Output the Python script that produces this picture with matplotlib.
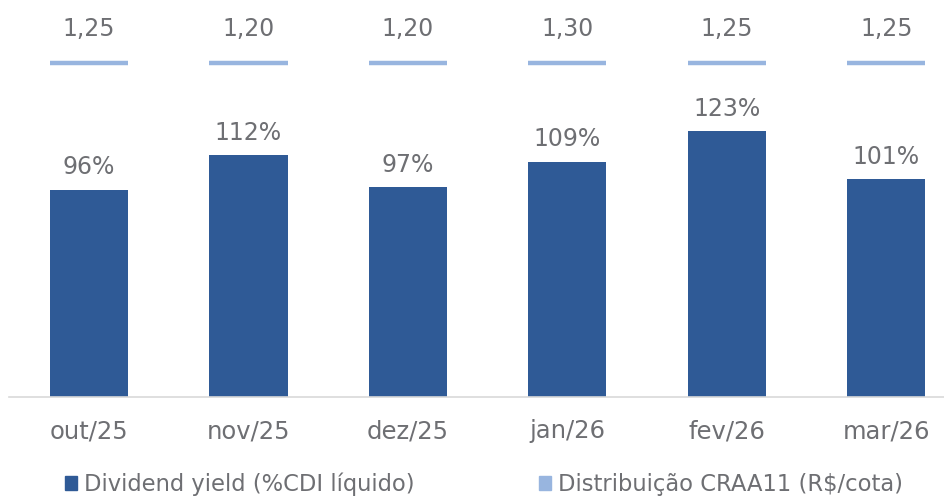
import matplotlib
matplotlib.use("Agg")
import matplotlib.pyplot as plt
import matplotlib.transforms as mtransforms
from matplotlib.patches import Patch

plt.rcParams['font.family'] = ['DejaVu Sans']

categories = ["out/25", "nov/25", "dez/25", "jan/26", "fev/26", "mar/26"]
dividend_yield = [96, 112, 97, 109, 123, 101]
distribuicao = [1.25, 1.20, 1.20, 1.30, 1.25, 1.25]
dy_labels = ["96%", "112%", "97%", "109%", "123%", "101%"]
dist_labels = ["1,25", "1,20", "1,20", "1,30", "1,25", "1,25"]

bar_color = "#2F5A96"
line_color = "#98B5DF"
text_color = "#6E6F73"

W, H = 945, 497
fig = plt.figure(figsize=(W / 100, H / 100), dpi=100)
left = 9.3 / W
right = 966 / W
bottom = (H - 397) / H
ax = fig.add_axes([left, bottom, right - left, 397 / H])
x = list(range(len(categories)))
ax.bar(x, dividend_yield, width=0.49, color=bar_color, zorder=2)
ax.set_xlim(-0.5, 5.5)
ax.set_ylim(0, 397 / 2.16)

for xi, v, lab in zip(x, dividend_yield, dy_labels):
    ax.annotate(lab, (xi, v), xytext=(0, 16), textcoords="offset points",
                ha="center", va="center", fontsize=17, color=text_color)

# distribution segments on a fixed row near the top
trans = mtransforms.blended_transform_factory(ax.transData, ax.transAxes)
seg_y = (397 - 63) / 397
lab_y = (397 - 29) / 397
for xi, v, lab in zip(x, distribuicao, dist_labels):
    ax.plot([xi - 0.245, xi + 0.245], [seg_y, seg_y], transform=trans,
            color=line_color, lw=3.2, solid_capstyle="butt", clip_on=False)
    ax.text(xi, lab_y, lab, transform=trans, ha="center", va="center",
            fontsize=17, color=text_color)

for s in ["top", "right", "left"]:
    ax.spines[s].set_visible(False)
ax.spines["bottom"].set_color("#D9D9D9")
ax.spines["bottom"].set_linewidth(1.2)
ax.set_yticks([])
ax.set_xticks(x)
ax.set_xticklabels(categories, fontsize=17.5, color=text_color)
ax.tick_params(axis="x", length=0, pad=16)

handles = [Patch(color=bar_color, label="Dividend yield (%CDI líquido)"),
           Patch(color=line_color, label="Distribuição CRAA11 (R$/cota)")]
leg = fig.legend(handles=handles, loc="center", bbox_to_anchor=(0.512, 0.026),
                 ncol=2, frameon=False, fontsize=16.3, handlelength=0.55,
                 handleheight=0.6, handletextpad=0.3, columnspacing=5.5)
for t in leg.get_texts():
    t.set_color(text_color)

fig.savefig("out.png", dpi=100)
